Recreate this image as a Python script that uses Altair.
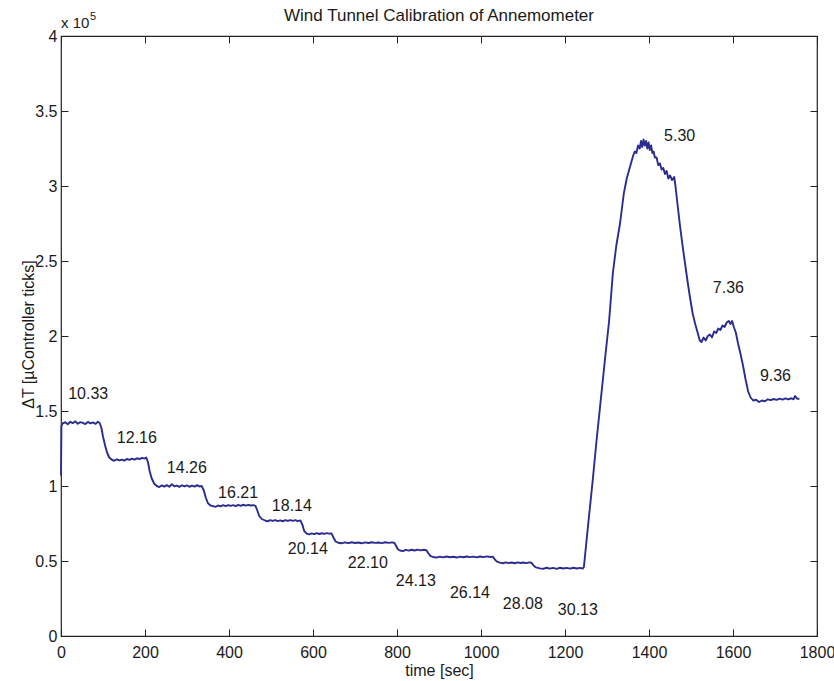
import altair as alt
import pandas as pd

# ---------------- data ----------------
time_s = [
    0, 1, 4, 10, 16, 22, 28, 34, 40, 46, 52, 58, 64, 70, 76, 82, 88, 92,
    96, 100, 105, 110, 115, 121,
    127, 133, 139, 145, 151, 157, 163, 169, 175, 181, 187, 193, 199, 203,
    207, 211, 216, 222, 228,
    234, 240, 246, 252, 258, 264, 270, 276, 282, 288, 294, 300, 306, 312, 318, 324, 330, 335,
    340, 345, 350, 356, 362,
    368, 374, 380, 386, 392, 398, 404, 410, 416, 422, 428, 434, 440, 446, 452, 458, 463,
    467, 472, 478, 486,
    492, 498, 504, 510, 516, 522, 528, 534, 540, 546, 552, 558, 564, 570,
    575, 579, 585,
    591, 597, 603, 609, 615, 621, 627, 633, 639, 644,
    649, 654, 660,
    668, 676, 684, 692, 700, 708, 716, 724, 732, 740, 748, 756, 764, 772, 780, 788, 794,
    798, 802, 807,
    814, 821, 828, 835, 842, 849, 856, 863, 870,
    875, 880, 886,
    894, 902, 910, 918, 926, 934, 942, 950, 958, 966, 974, 982, 990, 998, 1006, 1014, 1022, 1028,
    1033, 1038, 1045,
    1052, 1059, 1066, 1073, 1080, 1087, 1094, 1101, 1108, 1115, 1120,
    1125, 1131, 1140,
    1148, 1156, 1164, 1172, 1180, 1188, 1196, 1204, 1212, 1220, 1228, 1236, 1242, 1245,
    1255, 1265, 1275, 1285, 1295, 1305, 1314, 1322, 1331, 1340, 1347, 1352, 1358, 1362, 1366,
    1370, 1374, 1378, 1381, 1384, 1387, 1390, 1393, 1396, 1399, 1402, 1405, 1408, 1411, 1414,
    1418, 1422, 1426, 1430, 1434, 1438, 1442, 1446, 1450, 1455, 1460, 1463,
    1467, 1474, 1480, 1486, 1492, 1498, 1504, 1510, 1516, 1521, 1525, 1530, 1535, 1540, 1545,
    1550, 1555, 1560, 1565, 1570, 1575, 1580, 1585, 1590, 1594, 1598, 1602, 1607, 1612, 1618,
    1624, 1630, 1636, 1642, 1648, 1655, 1662, 1669, 1676, 1683, 1690, 1697, 1704, 1711, 1718,
    1725, 1732, 1739, 1744, 1748, 1752, 1758,
]
delta_t = [  # x 1e5 controller ticks
    1.07, 1.40, 1.418, 1.425, 1.412, 1.428, 1.419, 1.431, 1.415, 1.426, 1.421, 1.413, 1.427, 1.418, 1.424, 1.414, 1.428, 1.42,
    1.39, 1.33, 1.27, 1.22, 1.19, 1.175,
    1.168, 1.178, 1.171, 1.176, 1.169, 1.18, 1.174, 1.182, 1.176, 1.185, 1.179, 1.188, 1.183, 1.19,
    1.16, 1.10, 1.05, 1.015, 1.0,
    0.993, 1.004, 0.996, 1.006, 0.995, 1.012, 0.998, 1.003, 0.994, 1.005, 0.997, 1.004, 0.995, 1.002, 0.996, 1.006, 0.997, 1.0,
    0.97, 0.92, 0.885, 0.87, 0.866,
    0.861, 0.87, 0.864, 0.872, 0.866, 0.873, 0.867, 0.872, 0.866, 0.874, 0.868, 0.875, 0.869, 0.874, 0.87, 0.872, 0.868,
    0.84, 0.80, 0.78, 0.77,
    0.764, 0.772, 0.767, 0.773, 0.766, 0.771, 0.765, 0.772, 0.767, 0.773, 0.768, 0.772, 0.766, 0.771,
    0.74, 0.70, 0.683,
    0.678, 0.684, 0.679, 0.686, 0.68, 0.685, 0.681, 0.686, 0.682, 0.684,
    0.655, 0.63, 0.622,
    0.618, 0.624, 0.619, 0.625, 0.62, 0.623, 0.618, 0.624, 0.62, 0.625, 0.621, 0.623, 0.619, 0.625, 0.621, 0.624, 0.62,
    0.60, 0.578, 0.57,
    0.566, 0.574, 0.569, 0.575, 0.57, 0.576, 0.571, 0.575, 0.572,
    0.55, 0.533, 0.527,
    0.523, 0.529, 0.524, 0.53, 0.525, 0.528, 0.523, 0.529, 0.525, 0.53, 0.526, 0.529, 0.524, 0.53, 0.526, 0.531, 0.527, 0.529,
    0.51, 0.496, 0.489,
    0.485, 0.491, 0.486, 0.49, 0.485, 0.491, 0.487, 0.49, 0.486, 0.491, 0.489,
    0.47, 0.457, 0.451,
    0.448, 0.455, 0.449, 0.454, 0.448, 0.455, 0.45, 0.454, 0.449, 0.455, 0.45, 0.454, 0.449, 0.46,
    0.74, 1.01, 1.30, 1.57, 1.84, 2.10, 2.42, 2.60, 2.75, 2.95, 3.05, 3.10, 3.16, 3.20, 3.23,
    3.22, 3.27, 3.25, 3.30, 3.26, 3.31, 3.27, 3.30, 3.25, 3.29, 3.24, 3.27, 3.22, 3.23, 3.19,
    3.19, 3.14, 3.15, 3.11, 3.12, 3.08, 3.10, 3.05, 3.07, 3.04, 3.06, 3.0,
    2.90, 2.73, 2.60, 2.48, 2.36, 2.25, 2.15, 2.08, 2.02, 1.97, 1.96, 1.99, 1.97, 2.0, 2.01,
    1.99, 2.03, 2.02, 2.05, 2.04, 2.07, 2.06, 2.09, 2.10, 2.08, 2.10, 2.06, 2.02, 1.95, 1.88,
    1.80, 1.71, 1.63, 1.59, 1.57, 1.575, 1.56, 1.57, 1.565, 1.578, 1.572, 1.58, 1.574, 1.582, 1.576,
    1.584, 1.577, 1.585, 1.578, 1.60, 1.583, 1.58,
]

label_text = ["10.33", "12.16", "14.26", "16.21", "18.14", "20.14", "22.10",
              "24.13", "26.14", "28.08", "30.13", "5.30", "7.36", "9.36"]
label_t = [17, 133, 252, 374, 502, 540, 683, 797, 926, 1052, 1183, 1436, 1552, 1664]
label_v = [1.613, 1.32, 1.12, 0.953, 0.867, 0.58, 0.487, 0.367, 0.287, 0.213, 0.173,
           3.333, 2.32, 1.733]

x_ticks = [0, 200, 400, 600, 800, 1000, 1200, 1400, 1600, 1800]
y_ticks = [0, 0.5, 1, 1.5, 2, 2.5, 3, 3.5, 4]

title_text = ["Wind Tunnel Calibration of Annemometer"]
title_t = [900]
title_v = [4]

exp_base = ["x 10"]
exp_sup = ["5"]
corner_t = [0]
corner_v = [4]

FONT = "Liberation Sans"
INK = "#1a1a1a"
LINE = "#2b2c8f"

df = pd.DataFrame({"t": time_s, "v": delta_t})
lab = pd.DataFrame({"t": label_t, "v": label_v, "s": label_text})
ttl = pd.DataFrame({"t": title_t, "v": title_v, "s": title_text})
eb = pd.DataFrame({"t": corner_t, "v": corner_v, "s": exp_base})
es = pd.DataFrame({"t": corner_t, "v": corner_v, "s": exp_sup})

xs = alt.Scale(domain=[0, 1800], nice=False, zero=False)
ys = alt.Scale(domain=[0, 4], nice=False, zero=False)

main = alt.Chart(df).mark_line(color=LINE, strokeWidth=1.9, strokeJoin="round").encode(
    x=alt.X("t:Q", scale=xs, axis=alt.Axis(
        orient="bottom", values=x_ticks, format="d", title="time [sec]",
        offset=-7, tickSize=7, labelPadding=8, domain=False, grid=False,
        titleBaseline="alphabetic", titleY=46, labelFlush=False)),
    y=alt.Y("v:Q", scale=ys, axis=alt.Axis(
        orient="left", values=y_ticks, format="~g", title="ΔT [µController ticks]",
        offset=-7, tickSize=7, labelPadding=4, domain=False, grid=False,
        titleBaseline="alphabetic", titleAngle=270, titleX=-35, titleY=298,
        titleAlign="center", labelFlush=False)),
)

frame = alt.Chart(df).mark_line(opacity=0).encode(
    x=alt.X("t:Q", scale=xs, axis=alt.Axis(
        orient="top", values=x_ticks, labels=False, title="", offset=-7,
        tickSize=7, domain=False, grid=False)),
    y=alt.Y("v:Q", scale=ys, axis=alt.Axis(
        orient="right", values=y_ticks, labels=False, title="", offset=-7,
        tickSize=7, domain=False, grid=False)),
)

ann = alt.Chart(lab).mark_text(align="left", baseline="middle", font=FONT,
                               fontSize=16, color=INK).encode(
    x=alt.X("t:Q", scale=xs, axis=None),
    y=alt.Y("v:Q", scale=ys, axis=None),
    text="s:N",
)

title = alt.Chart(ttl).mark_text(align="center", baseline="alphabetic", font=FONT,
                                 fontSize=17, color=INK, dy=-15).encode(
    x=alt.X("t:Q", scale=xs, axis=None),
    y=alt.Y("v:Q", scale=ys, axis=None),
    text="s:N",
)

expo = alt.Chart(eb).mark_text(align="left", baseline="alphabetic", font=FONT,
                               fontSize=15, color=INK, dy=-8).encode(
    x=alt.X("t:Q", scale=xs, axis=None),
    y=alt.Y("v:Q", scale=ys, axis=None),
    text="s:N",
)

sup = alt.Chart(es).mark_text(align="left", baseline="alphabetic", font=FONT,
                              fontSize=11, color=INK, dx=29, dy=-16).encode(
    x=alt.X("t:Q", scale=xs, axis=None),
    y=alt.Y("v:Q", scale=ys, axis=None),
    text="s:N",
)

chart = alt.layer(main, frame, ann, title, expo, sup).resolve_axis(
    x="independent", y="independent"
).properties(
    width=756, height=600,
    padding={"left": 61, "top": 36, "right": 17, "bottom": 45},
    autosize=alt.AutoSizeParams(type="none"),
    background="white",
).configure_view(
    stroke="#222222", strokeWidth=1.2
).configure_axis(
    labelFont=FONT, labelFontSize=16, labelColor=INK,
    titleFont=FONT, titleFontSize=16, titleColor=INK, titleFontWeight="normal",
    tickColor="#222222", tickWidth=1,
)

chart.save("out.html", embed_options={"renderer": "svg", "actions": False})
